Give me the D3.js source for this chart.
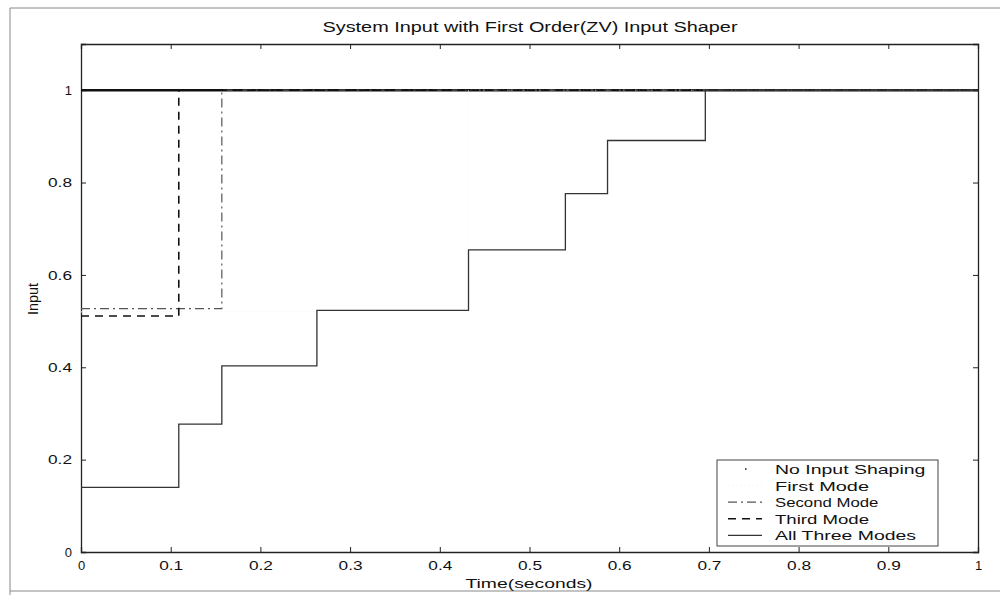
<!DOCTYPE html>
<html>
<head>
<meta charset="utf-8">
<script src="https://cdn.jsdelivr.net/npm/d3@7"></script>
<style>
  body { margin: 0; background: #fff; }
  svg { display: block; }
  text { font-family: "Liberation Sans", Arial, sans-serif; fill: #111; }
</style>
</head>
<body>
<svg id="chart" width="1000" height="599"></svg>
<script>
// data
const xTicks = [0, 0.1, 0.2, 0.3, 0.4, 0.5, 0.6, 0.7, 0.8, 0.9, 1]
const yTicks = [0, 0.2, 0.4, 0.6, 0.8, 1]

const noShapeT = [0, 1]
const noShapeV = [1, 1]
const firstT = [0, 0.432, 1]
const firstV = [0.52, 1, 1]
const secondT = [0, 0.157, 1]
const secondV = [0.527, 1, 1]
const thirdT = [0, 0.109, 1]
const thirdV = [0.511, 1, 1]
const allT = [0, 0.109, 0.157, 0.263, 0.432, 0.540, 0.587, 0.696, 1]
const allV = [0.14, 0.277, 0.403, 0.523, 0.654, 0.776, 0.891, 1, 1]

const legendNames = ['No Input Shaping', 'First Mode', 'Second Mode', 'Third Mode', 'All Three Modes']

const box = {left: 81, right: 978, top: 44, bottom: 552}
const svg = d3.select('#chart')

const x = d3.scaleLinear().domain([0, 1]).range([box.left, box.right])
const y = d3.scaleLinear().domain([0, 1.1]).range([box.bottom, box.top])

// faint scan frame
svg.append('path')
    .attr('d', `M10,595 L10,8 L1000,8 M10,591 L1000,591`)
    .attr('fill', 'none')
    .attr('stroke', '#888')
    .attr('stroke-width', 1)

const series = [
    {t: noShapeT, v: noShapeV, color: '#111', width: 2.6, dash: null},
    {t: firstT, v: firstV, color: '#f1f1ea', width: 1, dash: '1,3'},
    {t: secondT, v: secondV, color: '#555', width: 1.2, dash: '9,4,2,4'},
    {t: thirdT, v: thirdV, color: '#111', width: 1.6, dash: '8,6'},
    {t: allT, v: allV, color: '#333', width: 1.3, dash: null}
]

const line = d3.line()
    .x(d => x(d[0]))
    .y(d => y(d[1]))
    .curve(d3.curveStepAfter)

// axes, ticks pointing inward
const fmt = d => d === 0 || d === 1 ? String(d) : d3.format('.1f')(d)
svg.append('g')
    .attr('class', 'xaxis')
    .attr('transform', `translate(0,${box.bottom})`)
    .call(d3.axisBottom(x).tickValues(xTicks).tickSize(-5).tickPadding(9).tickFormat(fmt))
svg.append('g')
    .attr('transform', `translate(0,${box.top})`)
    .call(d3.axisTop(x).tickValues(xTicks).tickSize(-5).tickFormat(''))
svg.append('g')
    .attr('class', 'yaxis')
    .attr('transform', `translate(${box.left},0)`)
    .call(d3.axisLeft(y).tickValues(yTicks).tickSize(-5).tickPadding(9).tickFormat(fmt))
svg.append('g')
    .attr('transform', `translate(${box.right},0)`)
    .call(d3.axisRight(y).tickValues(yTicks).tickSize(-5).tickFormat(''))

svg.selectAll('.domain').attr('stroke', '#222').attr('stroke-width', 1.3)
svg.selectAll('.tick line').attr('stroke', '#222')
svg.selectAll('.tick text')
    .style('font-size', '13px')
    .style('font-family', '"Liberation Sans", Arial, sans-serif')
    .attr('fill', '#111')
    .each(function(d) {
        if (d !== 0 && d !== 1) {
            d3.select(this).attr('textLength', 24).attr('lengthAdjust', 'spacingAndGlyphs')
        }
    })

// plot lines
svg.append('g')
    .selectAll('path')
    .data(series)
    .enter()
    .append('path')
    .attr('d', s => line(s.t.map((t, i) => [t, s.v[i]])))
    .attr('fill', 'none')
    .attr('stroke', s => s.color)
    .attr('stroke-width', s => s.width)
    .attr('stroke-dasharray', s => s.dash)

// titles
svg.append('text')
    .attr('x', 530).attr('y', 32)
    .attr('text-anchor', 'middle')
    .attr('textLength', 415).attr('lengthAdjust', 'spacingAndGlyphs')
    .style('font-size', '14px')
    .text('System Input with First Order(ZV) Input Shaper')

svg.append('text')
    .attr('x', 529).attr('y', 588)
    .attr('text-anchor', 'middle')
    .attr('textLength', 127).attr('lengthAdjust', 'spacingAndGlyphs')
    .style('font-size', '13.5px')
    .text('Time(seconds)')

svg.append('text')
    .attr('transform', 'translate(38,299) rotate(-90)')
    .attr('text-anchor', 'middle')
    .attr('textLength', 32).attr('lengthAdjust', 'spacingAndGlyphs')
    .style('font-size', '14px')
    .text('Input')

// legend
const legend = svg.append('g').attr('transform', 'translate(717,460)')
legend.append('rect')
    .attr('width', 221).attr('height', 86)
    .attr('fill', '#fff')
    .attr('stroke', '#444')
    .attr('stroke-width', 1)

const rows = legend.selectAll('g.row')
    .data(legendNames)
    .enter()
    .append('g')
    .attr('class', 'row')
    .attr('transform', (d, i) => `translate(0,${9 + i * 16.6})`)

rows.append('line')
    .attr('x1', 11).attr('x2', 45)
    .attr('stroke', (d, i) => i === 0 ? '#111' : series[i].color)
    .attr('stroke-width', (d, i) => i === 0 ? 1.6 : series[i].width)
    .attr('stroke-dasharray', (d, i) => i === 0 ? '1.5,40' : series[i].dash)
    .attr('transform', (d, i) => i === 0 ? 'translate(17,0)' : null)

rows.append('text')
    .attr('x', 58).attr('y', 5)
    .attr('textLength', (d) => d.length * 9.4)
    .attr('lengthAdjust', 'spacingAndGlyphs')
    .style('font-size', '13.5px')
    .text(d => d)
</script>
</body>
</html>
